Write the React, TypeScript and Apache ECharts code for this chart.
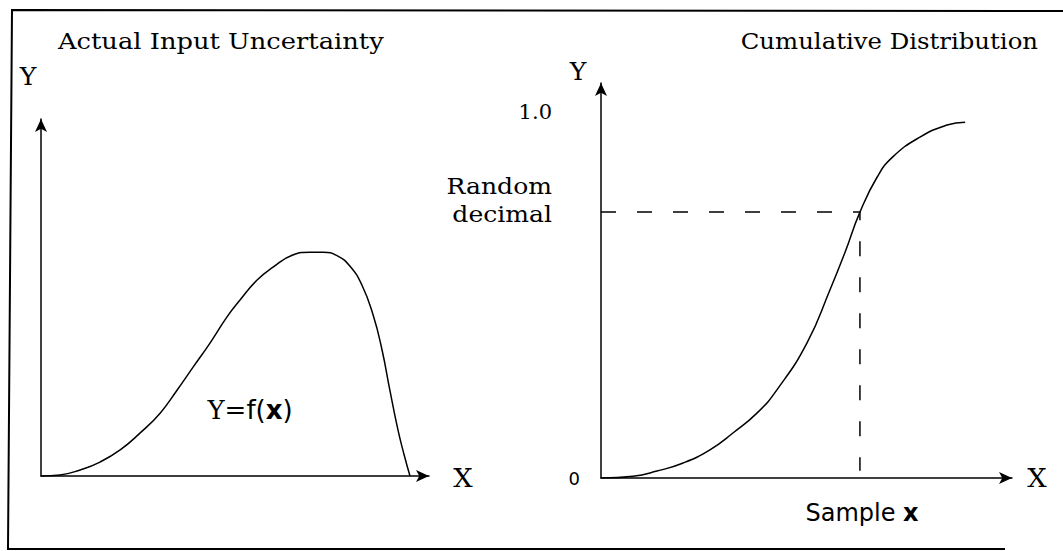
import React, { useEffect, useRef } from "react";
import * as echarts from "echarts";

// Left panel: actual input uncertainty density, Y = f(x)
const densityX = [0, 4.9, 10.1, 15.2, 20.4, 25.5, 30.7, 35.1, 39.2, 43.6, 47.9, 51.3, 55.7, 59.8, 64.9, 69.3, 72.7, 76.5, 79.6, 82.7, 85.6, 87.9, 89.9, 92, 93.6, 95.1];
const densityY = [0, 0.3, 1.7, 3.9, 7.3, 12.0, 17.6, 24.1, 30.5, 37.3, 44.5, 49.3, 54.9, 58.5, 61.9, 62.7, 62.7, 61.6, 58.8, 53.5, 45.1, 35.3, 24.1, 12.9, 5.9, 0];

// Right panel: cumulative distribution
const cdfX = [0, 7.8, 13.6, 20, 26.5, 32.1, 38, 42.8, 50.1, 55.7, 59.4, 63, 67.2, 71.0, 77.6, 84.2, 88.6];
const cdfY = [0, 0.005, 0.019, 0.041, 0.077, 0.123, 0.178, 0.241, 0.369, 0.514, 0.618, 0.727, 0.823, 0.878, 0.932, 0.965, 0.973];

const randomDecimal = 0.727;
const sampleX = 63;
const yTickLabels = ["0", "1.0"];

const SERIF = '"DejaVu Serif", serif';
const SANS = '"DejaVu Sans", sans-serif';

export default function App() {
  const ref = useRef<HTMLDivElement>(null);

  useEffect(() => {
    if (!ref.current) return;
    const chart = echarts.init(ref.current, null, { renderer: "svg" });

    const axisLine = {
      show: true,
      symbol: ["none", "arrow"],
      symbolSize: [9, 13],
      lineStyle: { color: "#000", width: 1.5 },
    };
    const hidden = {
      axisTick: { show: false },
      splitLine: { show: false },
    };

    const txt = (
      text: string,
      x: number,
      y: number,
      size: number,
      align = "left",
      sx = 1,
      family = SERIF
    ) => ({
      type: "text",
      x,
      y,
      scaleX: sx,
      silent: true,
      style: {
        text,
        font: `${size}px ${family}`,
        fill: "#000",
        align,
        verticalAlign: "middle",
        textAlign: align,
        textVerticalAlign: "middle",
      },
    });

    chart.setOption({
      animation: false,
      backgroundColor: "#fff",
      grid: [
        { left: 41, top: 119, width: 388, height: 357 },
        { left: 601, top: 83, width: 411, height: 395 },
      ],
      xAxis: [
        { type: "value", gridIndex: 0, min: 0, max: 100, axisLine, axisLabel: { show: false }, ...hidden },
        { type: "value", gridIndex: 1, min: 0, max: 100, axisLine, axisLabel: { show: false }, ...hidden },
      ],
      yAxis: [
        { type: "value", gridIndex: 0, min: 0, max: 100, axisLine, axisLabel: { show: false }, ...hidden },
        {
          type: "value",
          gridIndex: 1,
          min: 0,
          max: 1.08,
          interval: 1,
          axisLine,
          ...hidden,
          axisLabel: {
            show: true,
            margin: 21,
            color: "#000",
            formatter: (v: number) =>
              v === 0 ? `{z|${yTickLabels[0]}}` : v === 1 ? `{o|${yTickLabels[1]}}` : "",
            rich: {
              z: { fontFamily: SANS, fontSize: 18, color: "#000" },
              o: { fontFamily: SERIF, fontSize: 21, color: "#000", padding: [0, 28, 0, 0] },
            },
          },
        },
      ],
      series: [
        {
          type: "line",
          xAxisIndex: 0,
          yAxisIndex: 0,
          data: densityX.map((x, i) => [x, densityY[i]]),
          smooth: 0.5,
          showSymbol: false,
          lineStyle: { color: "#000", width: 1.5 },
        },
        {
          type: "line",
          xAxisIndex: 1,
          yAxisIndex: 1,
          data: cdfX.map((x, i) => [x, cdfY[i]]),
          smooth: 0.5,
          showSymbol: false,
          lineStyle: { color: "#000", width: 1.5 },
        },
        {
          type: "line",
          xAxisIndex: 1,
          yAxisIndex: 1,
          data: [
            [0, randomDecimal],
            [sampleX, randomDecimal],
            [sampleX, 0.02],
          ],
          showSymbol: false,
          lineStyle: { color: "#000", width: 1.5, type: [15, 21] },
        },
      ],
      graphic: [
        {
          type: "polyline",
          silent: true,
          shape: { points: [[1063, 11], [12, 10], [8, 549], [1005, 549]] },
          style: { stroke: "#000", lineWidth: 2, fill: "none" },
        },
        txt("Actual Input Uncertainty", 58, 41, 23, "left", 1.12),
        txt("Cumulative Distribution", 1038, 41, 23, "right", 1.06),
        txt("Y", 28, 77, 24, "center", 1.05),
        txt("X", 463, 478, 26, "center", 1.05),
        txt("Y", 578, 72, 24, "center", 1.05),
        txt("X", 1037, 478, 26, "center", 1.05),
        txt("Random", 552, 186, 23, "right", 1.09),
        txt("decimal", 552, 214, 23, "right", 1.09),
        {
          type: "text",
          x: 250,
          y: 410,
          silent: true,
          style: {
            text: "{a|Y=}{b|f(}{c|x}{b|)}",
            align: "center",
            verticalAlign: "middle",
            rich: {
              a: { fontFamily: SERIF, fontSize: 26, fill: "#000" },
              b: { fontFamily: SANS, fontSize: 26, fill: "#000" },
              c: { fontFamily: SANS, fontSize: 26, fontWeight: "bold", fill: "#000" },
            },
          },
        },
        {
          type: "text",
          x: 862,
          y: 513,
          silent: true,
          style: {
            text: "{a|Sample }{c|x}",
            align: "center",
            verticalAlign: "middle",
            rich: {
              a: { fontFamily: SANS, fontSize: 24, fill: "#000" },
              c: { fontFamily: SANS, fontSize: 24, fontWeight: "bold", fill: "#000" },
            },
          },
        },
      ],
    });

    return () => chart.dispose();
  }, []);

  return (
    <div
      ref={ref}
      style={{ position: "fixed", left: 0, top: 0, width: 1063, height: 551, background: "#fff" }}
    />
  );
}
